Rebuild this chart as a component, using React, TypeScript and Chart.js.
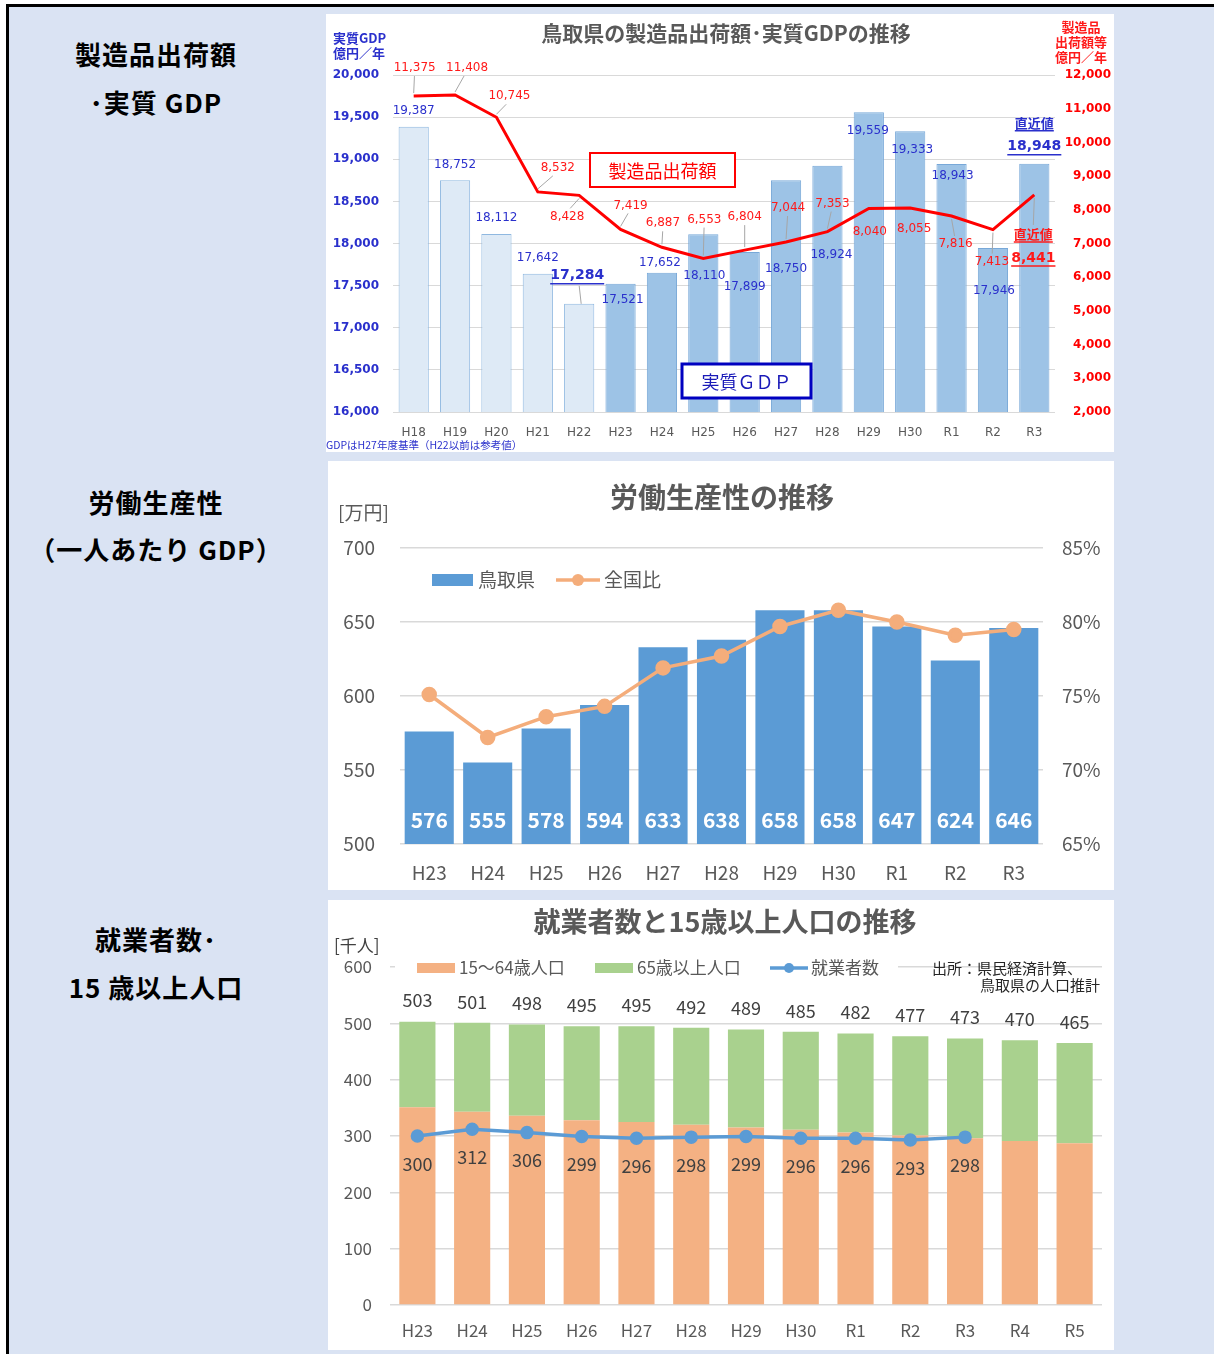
import React, { useEffect, useRef } from "react";
import { Chart, registerables } from "chart.js";

Chart.register(...registerables);

const JP = '"Noto Sans CJK JP", "Noto Sans", sans-serif';
const NUM = '"DejaVu Sans", sans-serif';

// ---------- Chart 1: 製造品出荷額・実質GDP ----------
const gdpYears = ["H18", "H19", "H20", "H21", "H22", "H23", "H24", "H25", "H26", "H27", "H28", "H29", "H30", "R1", "R2", "R3"];
const realGdp = [19387, 18752, 18112, 17642, 17284, 17521, 17652, 18110, 17899, 18750, 18924, 19559, 19333, 18943, 17946, 18948];
const shipments = [11375, 11408, 10745, 8532, 8428, 7419, 6887, 6553, 6804, 7044, 7353, 8040, 8055, 7816, 7413, 8441];
const gdpReferenceYears = 5; // H18–H22 are reference values (lighter bars)
const gdpHighlight = [4, 15];
const gdpTitle = "鳥取県の製造品出荷額･実質GDPの推移";
const gdpFootnote = "GDPはH27年度基準（H22以前は参考値）";
const latestText = "直近値";

// label placement (layout only)
const gdpLabelOffsets = [[0, -16], [0, -15], [0, -16], [0, -16], [-2, -28], [2, 16], [-2, -10], [1, 42], [0, 35], [0, 89], [4, 89], [-1, 19], [2, 19], [1, 12], [1, 43], [0, -17]];
const shipLabelOffsets = [[1, -28], [12, -27], [13, -21], [20, -24], [-12, 21], [10, -24], [1, -24], [1, -39], [0, -33], [2, -34], [5, -28], [1, 23], [4, 21], [4, 28], [-1, 32], [-1, 63]];

// ---------- Chart 2: 労働生産性 ----------
const prodYears = ["H23", "H24", "H25", "H26", "H27", "H28", "H29", "H30", "R1", "R2", "R3"];
const productivity = [576, 555, 578, 594, 633, 638, 658, 658, 647, 624, 646];
const nationalRatio = [75.1, 72.2, 73.6, 74.3, 76.9, 77.7, 79.7, 80.8, 80.0, 79.1, 79.5];

// ---------- Chart 3: 就業者数と15歳以上人口 ----------
const popYears = ["H23", "H24", "H25", "H26", "H27", "H28", "H29", "H30", "R1", "R2", "R3", "R4", "R5"];
const pop15to64 = [351, 343, 336, 328, 325, 320, 315, 311, 306, 301, 296, 291, 287];
const pop65plus = [152, 158, 162, 167, 170, 172, 174, 174, 176, 176, 177, 179, 178];
const popTotal = [503, 501, 498, 495, 495, 492, 489, 485, 482, 477, 473, 470, 465];
const employed = [300, 312, 306, 299, 296, 298, 299, 296, 296, 293, 298, null, null];

const BLUE = "#2a30cc";
const RED = "#ff1a1a";
const GRAY = "#595959";
const ORANGE_LINE = "#f4ad7b";

function drawText(ctx: CanvasRenderingContext2D, s: string, x: number, y: number, font: string, color: string, align: CanvasTextAlign = "center") {
  ctx.font = font;
  ctx.fillStyle = color;
  ctx.textAlign = align;
  ctx.textBaseline = "middle";
  ctx.fillText(s, x, y);
  return ctx.measureText(s).width;
}

function underline(ctx: CanvasRenderingContext2D, s: string, x: number, y: number, font: string, color: string, off: number) {
  ctx.font = font;
  const w = ctx.measureText(s).width;
  ctx.strokeStyle = color;
  ctx.lineWidth = 1.5;
  ctx.beginPath();
  ctx.moveTo(x - w / 2, y + off);
  ctx.lineTo(x + w / 2, y + off);
  ctx.stroke();
}

function leader(ctx: CanvasRenderingContext2D, x1: number, y1: number, x2: number, y2: number) {
  ctx.strokeStyle = "#a6a6a6";
  ctx.lineWidth = 1;
  ctx.beginPath();
  ctx.moveTo(x1, y1);
  ctx.lineTo(x2, y2);
  ctx.stroke();
}

function boxLabel(ctx: CanvasRenderingContext2D, x: number, y: number, w: number, h: number, stroke: string, lw: number, s: string, color: string, font: string) {
  ctx.fillStyle = "#ffffff";
  ctx.fillRect(x, y, w, h);
  ctx.strokeStyle = stroke;
  ctx.lineWidth = lw;
  ctx.strokeRect(x, y, w, h);
  drawText(ctx, s, x + w / 2, y + h / 2 + 1, font, color);
}

const gdpDecor = {
  id: "gdpDecor",
  afterDraw(chart: any) {
    const ctx: CanvasRenderingContext2D = chart.ctx;
    ctx.save();
    drawText(ctx, gdpTitle, 400, 19, `bold 21px ${JP}`, GRAY);
    drawText(ctx, "実質GDP", 7, 24, `bold 13px ${JP}`, BLUE, "left");
    drawText(ctx, "億円／年", 7, 39, `bold 13px ${JP}`, BLUE, "left");
    drawText(ctx, "製造品", 755, 13, `bold 13px ${JP}`, RED);
    drawText(ctx, "出荷額等", 755, 28, `bold 13px ${JP}`, RED);
    drawText(ctx, "億円／年", 755, 43, `bold 13px ${JP}`, RED);
    boxLabel(ctx, 264, 139, 145, 34, "#ff0000", 2, "製造品出荷額", "#ff0000", `18px ${JP}`);
    boxLabel(ctx, 356, 350, 129, 34, "#0000c0", 3, "実質ＧＤＰ", "#1a1ab8", `18px ${JP}`);
    drawText(ctx, gdpFootnote, 0, 431, `10.5px ${JP}`, BLUE, "left");

    const lineMeta = chart.getDatasetMeta(0);
    const barMeta = chart.getDatasetMeta(1);
    const last = realGdp.length - 1;

    realGdp.forEach((v, i) => {
      const el = barMeta.data[i];
      const [dx, dy] = gdpLabelOffsets[i];
      const lx = el.x + dx;
      const ly = el.y + dy;
      const s = v.toLocaleString("en-US");
      if (gdpHighlight.includes(i)) {
        const f = `bold 14px ${NUM}`;
        if (dy <= -20) leader(ctx, lx + 2, ly + 10, el.x + 2, el.y);
        drawText(ctx, s, lx, ly, f, BLUE);
        underline(ctx, s, lx, ly, f, BLUE, 8);
        if (i === last) {
          const f2 = `bold 13px ${JP}`;
          drawText(ctx, latestText, lx, ly - 24, f2, BLUE);
          underline(ctx, latestText, lx, ly - 24, f2, BLUE, 8);
        }
      } else {
        drawText(ctx, s, lx, ly, `12px ${NUM}`, BLUE);
      }
    });

    shipments.forEach((v, i) => {
      const el = lineMeta.data[i];
      const [dx, dy] = shipLabelOffsets[i];
      const lx = el.x + dx;
      const ly = el.y + dy;
      const s = v.toLocaleString("en-US");
      if (i === last) {
        leader(ctx, el.x, el.y + 3, lx, ly - 33);
        const f = `bold 14px ${NUM}`;
        drawText(ctx, s, lx, ly, f, RED);
        underline(ctx, s, lx, ly, f, RED, 8);
        const f2 = `bold 13px ${JP}`;
        drawText(ctx, latestText, lx, ly - 24, f2, RED);
        underline(ctx, latestText, lx, ly - 24, f2, RED, 8);
        return;
      }
      if (Math.hypot(dx, dy) >= 24) {
        leader(ctx, el.x, el.y + (dy < 0 ? -3 : 3), lx - dx * 0.25, ly + (dy < 0 ? 8 : -8));
      }
      drawText(ctx, s, lx, ly, `12px ${NUM}`, RED);
    });
    ctx.restore();
  },
};

const prodDecor = {
  id: "prodDecor",
  afterDraw(chart: any) {
    const ctx: CanvasRenderingContext2D = chart.ctx;
    ctx.save();
    drawText(ctx, "労働生産性の推移", 394, 36, `bold 28px ${JP}`, GRAY);
    drawText(ctx, "[万円]", 10, 52, `19px ${JP}`, GRAY, "left");
    // legend
    ctx.fillStyle = "#5b9bd5";
    ctx.fillRect(104, 113, 41, 12);
    drawText(ctx, "鳥取県", 150, 119, `19px ${JP}`, GRAY, "left");
    ctx.strokeStyle = ORANGE_LINE;
    ctx.lineWidth = 3.5;
    ctx.beginPath();
    ctx.moveTo(228, 119);
    ctx.lineTo(272, 119);
    ctx.stroke();
    ctx.fillStyle = ORANGE_LINE;
    ctx.beginPath();
    ctx.arc(250, 119, 6, 0, Math.PI * 2);
    ctx.fill();
    drawText(ctx, "全国比", 276, 119, `19px ${JP}`, GRAY, "left");
    // bar values
    const barMeta = chart.getDatasetMeta(1);
    productivity.forEach((v, i) => {
      const el = barMeta.data[i];
      drawText(ctx, String(v), el.x, chart.chartArea.bottom - 24, `bold 21px ${JP}`, "#ffffff");
    });
    ctx.restore();
  },
};

const popDecor = {
  id: "popDecor",
  afterDraw(chart: any) {
    const ctx: CanvasRenderingContext2D = chart.ctx;
    ctx.save();
    drawText(ctx, "就業者数と15歳以上人口の推移", 397, 22, `bold 27px ${JP}`, GRAY);
    drawText(ctx, "[千人]", 6, 46, `17px ${JP}`, "#404040", "left");
    // legend box
    ctx.fillStyle = "#ffffff";
    ctx.fillRect(67, 58, 503, 21);
    ctx.fillStyle = "#f4b183";
    ctx.fillRect(89, 63, 38, 10);
    drawText(ctx, "15～64歳人口", 131, 68, `17px ${JP}`, GRAY, "left");
    ctx.fillStyle = "#a9d18e";
    ctx.fillRect(267, 63, 38, 10);
    drawText(ctx, "65歳以上人口", 309, 68, `17px ${JP}`, GRAY, "left");
    ctx.strokeStyle = "#5b9bd5";
    ctx.lineWidth = 3.5;
    ctx.beginPath();
    ctx.moveTo(442, 68);
    ctx.lineTo(480, 68);
    ctx.stroke();
    ctx.fillStyle = "#5b9bd5";
    ctx.beginPath();
    ctx.arc(461, 68, 5, 0, Math.PI * 2);
    ctx.fill();
    drawText(ctx, "就業者数", 483, 68, `17px ${JP}`, GRAY, "left");
    drawText(ctx, "出所：県民経済計算、", 604, 68, `15px ${JP}`, "#262626", "left");
    drawText(ctx, "鳥取県の人口推計", 772, 85, `15px ${JP}`, "#262626", "right");
    // totals
    const greenMeta = chart.getDatasetMeta(2);
    popTotal.forEach((v, i) => {
      const el = greenMeta.data[i];
      drawText(ctx, String(v), el.x, el.y - 21, `18px ${JP}`, "#404040");
    });
    // employed labels
    const lineMeta = chart.getDatasetMeta(0);
    employed.forEach((v, i) => {
      if (v == null) return;
      const el = lineMeta.data[i];
      drawText(ctx, String(v), el.x, el.y + 28, `18px ${JP}`, "#404040");
    });
    ctx.restore();
  },
};

function makeGdpChart(canvas: HTMLCanvasElement) {
  return new Chart(canvas, {
    type: "bar",
    data: {
      labels: gdpYears,
      datasets: [
        {
          type: "line",
          label: "製造品出荷額",
          data: shipments,
          yAxisID: "yR",
          borderColor: "#ff0000",
          borderWidth: 3,
          pointRadius: 0,
          tension: 0,
          order: 0,
        } as any,
        {
          type: "bar",
          label: "実質GDP",
          data: realGdp,
          yAxisID: "yL",
          backgroundColor: realGdp.map((_, i) => (i < gdpReferenceYears ? "#deeaf6" : "#9dc3e6")),
          borderColor: realGdp.map((_, i) => (i < gdpReferenceYears ? "#8fb8e0" : "#78a8d8")),
          borderWidth: 1,
          borderSkipped: "bottom",
          barPercentage: 0.73,
          categoryPercentage: 1,
          order: 1,
        } as any,
      ],
    },
    options: {
      animation: false,
      responsive: false,
      maintainAspectRatio: false,
      layout: { padding: { top: 61, left: 0, right: 3, bottom: 0 } },
      plugins: { legend: { display: false }, tooltip: { enabled: false } },
      scales: {
        x: {
          grid: { display: false, drawTicks: false },
          border: { display: false },
          ticks: { color: GRAY, font: { family: NUM, size: 12 }, padding: 14, maxRotation: 0, autoSkip: false },
          afterFit: (s: any) => { s.height = 40; },
        },
        yL: {
          position: "left",
          min: 16000,
          max: 20000,
          grid: { color: "#d9d9d9", drawTicks: false },
          border: { display: false },
          ticks: {
            stepSize: 500,
            color: BLUE,
            font: { family: NUM, size: 12, weight: "bold" },
            padding: 14,
            callback: (v: any) => Number(v).toLocaleString("en-US"),
          },
          afterFit: (s: any) => { s.width = 67; },
        },
        yR: {
          position: "right",
          min: 2000,
          max: 12000,
          grid: { display: false, drawTicks: false },
          border: { display: false },
          ticks: {
            stepSize: 1000,
            color: "#ff0000",
            crossAlign: "far",
            font: { family: NUM, size: 12, weight: "bold" },
            callback: (v: any) => Number(v).toLocaleString("en-US"),
          },
          afterFit: (s: any) => { s.width = 56; },
        },
      },
    } as any,
    plugins: [gdpDecor],
  });
}

function makeProdChart(canvas: HTMLCanvasElement) {
  return new Chart(canvas, {
    type: "bar",
    data: {
      labels: prodYears,
      datasets: [
        {
          type: "line",
          label: "全国比",
          data: nationalRatio,
          yAxisID: "yR",
          borderColor: ORANGE_LINE,
          backgroundColor: ORANGE_LINE,
          borderWidth: 3.5,
          pointRadius: 6,
          pointBackgroundColor: ORANGE_LINE,
          pointBorderColor: ORANGE_LINE,
          tension: 0,
          order: 0,
        } as any,
        {
          type: "bar",
          label: "鳥取県",
          data: productivity,
          yAxisID: "y",
          backgroundColor: "#5b9bd5",
          barPercentage: 0.84,
          categoryPercentage: 1,
          order: 1,
        } as any,
      ],
    },
    options: {
      animation: false,
      responsive: false,
      maintainAspectRatio: false,
      layout: { padding: { top: 87, left: 0, right: 0, bottom: 0 } },
      plugins: { legend: { display: false }, tooltip: { enabled: false } },
      scales: {
        x: {
          grid: { display: false, drawTicks: false },
          border: { display: false },
          ticks: { color: GRAY, font: { family: JP, size: 19 }, padding: 17, maxRotation: 0, autoSkip: false },
          afterFit: (s: any) => { s.height = 46; },
        },
        y: {
          position: "left",
          min: 500,
          max: 700,
          grid: { color: "#d9d9d9", lineWidth: 1.5, drawTicks: false },
          border: { display: false },
          ticks: { stepSize: 50, color: GRAY, font: { family: JP, size: 19 }, padding: 25 },
          afterFit: (s: any) => { s.width = 72; },
        },
        yR: {
          position: "right",
          min: 65,
          max: 85,
          grid: { display: false, drawTicks: false },
          border: { display: false },
          ticks: { stepSize: 5, color: GRAY, font: { family: JP, size: 19 }, padding: 19, callback: (v: any) => `${v}%` },
          afterFit: (s: any) => { s.width = 71; },
        },
      },
    } as any,
    plugins: [prodDecor],
  });
}

function makePopChart(canvas: HTMLCanvasElement) {
  return new Chart(canvas, {
    type: "bar",
    data: {
      labels: popYears,
      datasets: [
        {
          type: "line",
          label: "就業者数",
          data: employed,
          yAxisID: "y2",
          borderColor: "#5b9bd5",
          backgroundColor: "#5b9bd5",
          borderWidth: 3.5,
          pointRadius: 5,
          pointBackgroundColor: "#5b9bd5",
          pointBorderColor: "#5b9bd5",
          tension: 0,
          spanGaps: false,
          order: 0,
        } as any,
        {
          type: "bar",
          label: "15～64歳人口",
          data: pop15to64,
          yAxisID: "y",
          stack: "pop",
          backgroundColor: "#f4b183",
          barPercentage: 0.66,
          categoryPercentage: 1,
          order: 1,
        } as any,
        {
          type: "bar",
          label: "65歳以上人口",
          data: pop65plus,
          yAxisID: "y",
          stack: "pop",
          backgroundColor: "#a9d18e",
          barPercentage: 0.66,
          categoryPercentage: 1,
          order: 1,
        } as any,
      ],
    },
    options: {
      animation: false,
      responsive: false,
      maintainAspectRatio: false,
      layout: { padding: { top: 67, left: 0, right: 12, bottom: 0 } },
      plugins: { legend: { display: false }, tooltip: { enabled: false } },
      scales: {
        x: {
          stacked: true,
          grid: { display: false, drawTicks: false },
          border: { display: false },
          ticks: { color: GRAY, font: { family: JP, size: 17 }, padding: 15, maxRotation: 0, autoSkip: false },
          afterFit: (s: any) => { s.height = 45; },
        },
        y: {
          stacked: true,
          position: "left",
          min: 0,
          max: 600,
          grid: { color: "#d9d9d9", lineWidth: 1.5, drawTicks: false },
          border: { display: false },
          ticks: { stepSize: 100, color: GRAY, font: { family: JP, size: 17 }, padding: 18 },
          afterFit: (s: any) => { s.width = 62; },
        },
        y2: {
          display: false,
          stacked: false,
          min: 0,
          max: 600,
        },
      },
    } as any,
    plugins: [popDecor],
  });
}

const sideLabels: [string, number][] = [
  ["製造品出荷額", 55],
  ["･実質 GDP", 103],
  ["労働生産性", 503],
  ["（一人あたり GDP）", 550],
  ["就業者数･", 940],
  ["15 歳以上人口", 988],
];

export default function App() {
  const c1 = useRef<HTMLCanvasElement>(null);
  const c2 = useRef<HTMLCanvasElement>(null);
  const c3 = useRef<HTMLCanvasElement>(null);

  useEffect(() => {
    const charts = [makeGdpChart(c1.current!), makeProdChart(c2.current!), makePopChart(c3.current!)];
    return () => charts.forEach((c) => c.destroy());
  }, []);

  const panel = (left: number, top: number, w: number, h: number, ref: any) => (
    <div style={{ position: "absolute", left, top, width: w, height: h, background: "#ffffff" }}>
      <canvas ref={ref} width={w} height={h} style={{ display: "block", width: w, height: h }} />
    </div>
  );

  return (
    <div style={{ position: "absolute", left: 0, top: 0, width: 1214, height: 1354, background: "#ffffff", overflow: "hidden" }}>
      <div
        style={{
          position: "absolute",
          left: 6,
          top: 4,
          width: 1208,
          height: 1350,
          background: "#dae3f3",
          borderTop: "3px solid #000",
          borderLeft: "3px solid #000",
          boxSizing: "border-box",
        }}
      />
      {sideLabels.map(([s, y]) => (
        <div
          key={s}
          style={{
            position: "absolute",
            left: 9,
            width: 294,
            top: y - 20,
            height: 32,
            lineHeight: "32px",
            textAlign: "center",
            font: `bold 26px ${JP}`,
            letterSpacing: "1px",
            color: "#000",
            whiteSpace: "nowrap",
          }}
        >
          {s}
        </div>
      ))}
      {panel(326, 14, 788, 438, c1)}
      {panel(328, 461, 786, 429, c2)}
      {panel(328, 900, 786, 450, c3)}
    </div>
  );
}
